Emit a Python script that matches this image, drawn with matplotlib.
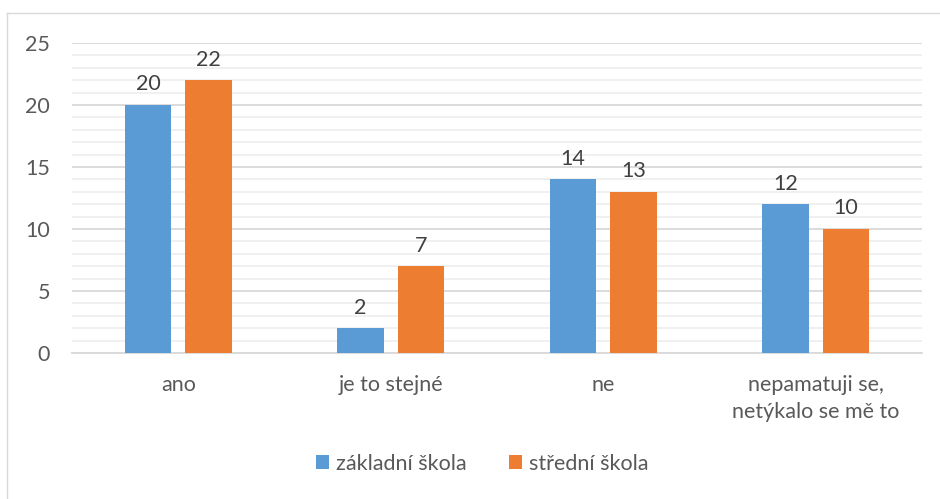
import matplotlib.pyplot as plt
import numpy as np
from matplotlib.lines import Line2D

plt.rcParams['font.family'] = ['Lato', 'DejaVu Sans']

categories = ['ano', 'je to stejné', 'ne', 'nepamatuji se,\nnetýkalo se mě to']
zakladni = [20, 2, 14, 12]
stredni = [22, 7, 13, 10]
series_names = ['základní škola', 'střední škola']

blue = '#5B9BD5'
orange = '#ED7D31'
txt = '#595959'
fs = 15.5

fig = plt.figure(figsize=(9.4, 4.99), dpi=100)
ax = fig.add_axes([0.0766, 0.2926, 0.9043, 0.6212])

x = np.arange(len(categories))
w = 0.22
off = 0.142
b1 = ax.bar(x - off, zakladni, w, color=blue, label=series_names[0], zorder=3)
b2 = ax.bar(x + off, stredni, w, color=orange, label=series_names[1], zorder=3)

for bars, vals in ((b1, zakladni), (b2, stredni)):
    for r, v in zip(bars, vals):
        ax.text(r.get_x() + r.get_width() / 2, v + 0.85, str(v), ha='center', va='bottom',
                fontsize=fs, color='#404040')

ax.set_xlim(-0.5, len(categories) - 0.5)
ax.set_ylim(0, 25)
ax.set_yticks(range(0, 26, 5))
ax.set_yticks(range(0, 26, 1), minor=True)
ax.grid(axis='y', which='major', color='#D9D9D9', linewidth=1.3, zorder=0)
ax.grid(axis='y', which='minor', color='#EFEFEF', linewidth=1.3, zorder=0)
ax.set_xticks(x)
ax.set_xticklabels(categories, linespacing=1.4)
ax.tick_params(axis='both', length=0, labelsize=fs, colors=txt)
ax.tick_params(axis='x', pad=16)
ax.tick_params(axis='y', pad=16)
ax.tick_params(which='minor', length=0)
for s in ['top', 'right', 'left']:
    ax.spines[s].set_visible(False)
ax.spines['bottom'].set_color('#D9D9D9')
ax.spines['bottom'].set_linewidth(1.3)

leg = fig.legend(loc='lower center', bbox_to_anchor=(0.513, 0.012), ncol=2, frameon=False,
                 fontsize=fs, handlelength=0.6, handleheight=0.6, columnspacing=2.0,
                 handletextpad=0.3)
for t in leg.get_texts():
    t.set_color(txt)

# outer chart border (left and top)
fig.add_artist(Line2D([0.0075, 0.0075], [0, 0.974], color='#D9D9D9', lw=1, transform=fig.transFigure))
fig.add_artist(Line2D([0.0075, 1], [0.974, 0.974], color='#D9D9D9', lw=1, transform=fig.transFigure))

fig.savefig('out.png', dpi=100)
